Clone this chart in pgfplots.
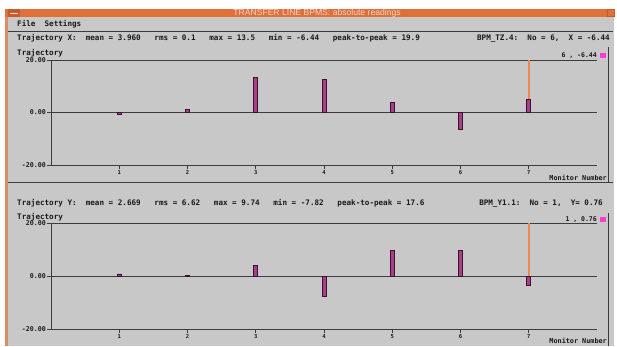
\documentclass[border=0pt]{standalone}
\usepackage{pgfplots}
\pgfplotsset{compat=1.18}
\usepackage{fontspec}
\setmainfont{DejaVu Sans Mono}
\newfontfamily\titlefont{Liberation Sans}
\definecolor{bg}{RGB}{200,200,200}
\definecolor{titleor}{RGB}{224,112,58}
\definecolor{borderor}{RGB}{218,140,100}
\definecolor{btnor}{RGB}{200,90,40}
\definecolor{barfill}{RGB}{168,64,136}
\definecolor{bardark}{RGB}{60,16,48}
\definecolor{cursor}{RGB}{236,136,80}
\definecolor{mag}{RGB}{255,60,210}
\definecolor{txt}{RGB}{25,25,25}
\definecolor{ln}{RGB}{60,60,60}
\begin{document}
\begin{tikzpicture}
\fill[white] (0pt,0pt) rectangle (617pt,-346pt);
\fill[bg] (8pt,-17pt) rectangle (614pt,-346pt);
\fill[borderor] (5pt,-9pt) rectangle (8pt,-346pt);
\fill[titleor] (5pt,-9pt) rectangle (615pt,-17pt);
\fill[btnor] (8pt,-9pt) rectangle (20pt,-17pt);
\draw[white!80!titleor, line width=0.8pt] (10pt,-13pt) -- (18pt,-13pt);
\draw[btnor, line width=0.6pt] (607pt,-9.5pt) rectangle (614pt,-16.5pt);
\node[text=white!70!titleor, font=\titlefont\fontsize{8.6}{9}\selectfont, anchor=center] at (317pt,-13.2pt) {TRANSFER LINE BPMS: absolute readings};
% separators
\draw[ln, line width=0.8pt] (8pt,-31pt) -- (613pt,-31pt);
\draw[ln, line width=0.8pt] (8pt,-182pt) -- (613pt,-182pt);
\draw[ln, line width=0.9pt] (608.5pt,-47pt) -- (608.5pt,-182pt);
\draw[ln, line width=0.9pt] (608.5pt,-213pt) -- (608.5pt,-346pt);
% texts
\begin{scope}[every node/.style={text=txt, inner sep=0pt, font=\fontsize{7.6}{8}\selectfont\bfseries}]
\node[anchor=base west] at (17pt,-26.5pt) {File\ \ Settings};
\node[anchor=base west] at (17pt,-40pt) {Trajectory X:\ \ mean = 3.960\ \ \ rms = 0.1\ \ \ max = 13.5\ \ \ min = -6.44\ \ \ peak-to-peak = 19.9};
\node[anchor=base east] at (610pt,-40pt) {BPM\_TZ.4:\ \ No = 6,\ \ X = -6.44};
\node[anchor=base west] at (17pt,-55.5pt) {Trajectory};
\node[anchor=base west] at (17pt,-205.5pt) {Trajectory Y:\ \ mean = 2.669\ \ \ rms = 6.62\ \ \ max = 9.74\ \ \ min = -7.82\ \ \ peak-to-peak = 17.6};
\node[anchor=base east] at (603pt,-205.5pt) {BPM\_Y1.1:\ \ No = 1,\ \ Y= 0.76};
\node[anchor=base west] at (17pt,-219.5pt) {Trajectory};
\end{scope}
\begin{scope}[every node/.style={text=txt, inner sep=0pt, font=\fontsize{6.8}{7}\selectfont\bfseries}]
\node[anchor=base east] at (607pt,-180.5pt) {Monitor Number};
\node[anchor=base east] at (607pt,-343.5pt) {Monitor Number};
\end{scope}
\begin{scope}[every node/.style={text=txt, inner sep=0pt, font=\fontsize{6.5}{6.5}\selectfont\bfseries}]
\node[anchor=base east] at (597pt,-57.5pt) {6 , -6.44};
\node[anchor=base east] at (597pt,-221.5pt) {1 , 0.76};
\end{scope}
\fill[mag] (600pt,-52.5pt) rectangle (606pt,-58pt);
\fill[mag] (600pt,-216.5pt) rectangle (606pt,-222pt);
\pgfplotsset{bpm/.style={
  anchor=south west, scale only axis, width=546pt,
  xmin=0, xmax=8, ymin=-20, ymax=20,
  axis lines*=left,
  axis line style={draw=ln, line width=1pt},
  ymajorgrids, grid style={draw=ln, line width=0.9pt},
  ytick={-20,0,20}, yticklabels={-20.00,0.00,20.00},
  xtick={1,2,3,4,5,6,7}, xticklabels={1,2,3,4,5,6,7},
  tick align=outside, major tick length=4pt,
  tick style={draw=ln, line width=0.9pt},
  yticklabel style={font=\fontsize{6.6}{7}\selectfont\bfseries, text=txt, inner sep=1pt},
  xticklabel style={font=\fontsize{5.5}{5.5}\selectfont\bfseries, text=txt, inner sep=1pt},
  clip=false,
}}
\begin{axis}[bpm, at={(51pt,-165pt)}, height=105pt]
\addplot[cursor, line width=1.6pt] coordinates {(7,4.9) (7,20)};
\addplot[ybar, bar width=4pt, fill=barfill, draw=bardark, line width=0.9pt] coordinates {(1,-0.8) (2,1.3) (3,13.5) (4,12.6) (5,3.7) (6,-6.44) (7,4.9)};
\end{axis}
\begin{axis}[bpm, at={(51pt,-329pt)}, height=106pt]
\addplot[cursor, line width=1.6pt] coordinates {(7,0) (7,20)};
\addplot[ybar, bar width=4pt, fill=barfill, draw=bardark, line width=0.9pt] coordinates {(1,0.76) (2,0.15) (3,3.8) (4,-7.82) (5,9.74) (6,9.74) (7,-3.7)};
\end{axis}
\pgfresetboundingbox
\useasboundingbox (0pt,0pt) rectangle (617pt,-346pt);
\end{tikzpicture}
\end{document}
